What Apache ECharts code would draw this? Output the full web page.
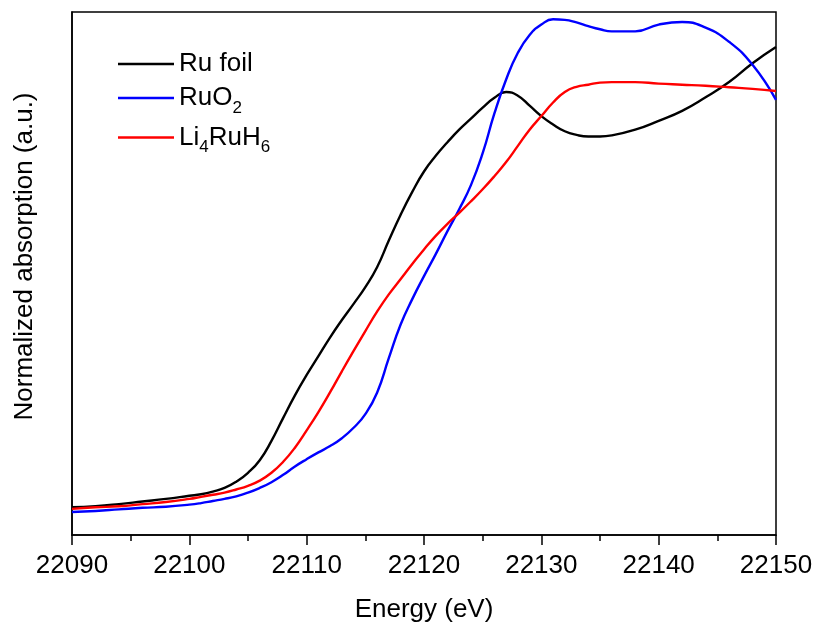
<!DOCTYPE html>
<html>
<head>
<meta charset="utf-8">
<script src="https://cdn.jsdelivr.net/npm/echarts@6/dist/echarts.min.js"></script>
<style>
  html, body { margin: 0; padding: 0; background: #fff; }
  #chart { width: 818px; height: 625px; }
</style>
</head>
<body>
<div id="chart"></div>
<script>
// Ru K-edge XANES, normalized absorption vs photon energy (eV)
const energy = [
  22090, 22092, 22094, 22096, 22098,
  22100, 22101, 22102, 22103, 22104, 22105, 22106, 22107, 22108, 22109,
  22110, 22111, 22112, 22113, 22114, 22115, 22116, 22117, 22118, 22119,
  22120, 22121, 22122, 22123, 22124, 22125, 22126, 22127, 22128, 22129,
  22130, 22131, 22132, 22133, 22134, 22135, 22136,
  22138, 22140, 22142, 22144, 22146, 22148, 22150
];

const ruFoil = [
  0.053, 0.055, 0.059, 0.064, 0.069,
  0.075, 0.078, 0.083, 0.090, 0.102, 0.119, 0.143, 0.180, 0.224, 0.267,
  0.306, 0.342, 0.378, 0.411, 0.442, 0.474, 0.512, 0.563, 0.612, 0.656,
  0.695, 0.725, 0.751, 0.775, 0.796, 0.817, 0.836, 0.847, 0.840, 0.821,
  0.801, 0.785, 0.772, 0.765, 0.762, 0.762, 0.764,
  0.775, 0.792, 0.811, 0.837, 0.866, 0.902, 0.933
];

const ruO2 = [
  0.044, 0.046, 0.049, 0.052, 0.054,
  0.058, 0.061, 0.065, 0.069, 0.074, 0.081, 0.090, 0.101, 0.115, 0.131,
  0.145, 0.158, 0.170, 0.185, 0.205, 0.231, 0.272, 0.338, 0.402, 0.451,
  0.495, 0.537, 0.581, 0.623, 0.669, 0.730, 0.806, 0.871, 0.922, 0.956,
  0.976, 0.986, 0.985, 0.980, 0.973, 0.967, 0.963,
  0.963, 0.976, 0.981, 0.970, 0.943, 0.899, 0.832
];

const li4RuH6 = [
  0.050, 0.053, 0.055, 0.059, 0.063,
  0.069, 0.073, 0.077, 0.081, 0.087, 0.094, 0.104, 0.119, 0.140, 0.167,
  0.200, 0.235, 0.273, 0.313, 0.352, 0.390, 0.427, 0.460, 0.489, 0.518,
  0.546, 0.572, 0.595, 0.616, 0.638, 0.661, 0.686, 0.713, 0.744, 0.775,
  0.801, 0.827, 0.847, 0.857, 0.861, 0.865, 0.866,
  0.866, 0.863, 0.861, 0.859, 0.856, 0.853, 0.849
];

const seriesNames = ['Ru foil', 'RuO2', 'Li4RuH6'];
const seriesColors = ['#000000', '#0000ff', '#ff0000'];
const seriesValues = [ruFoil, ruO2, li4RuH6];

// legend labels with chemical subscripts
const legendLabels = {
  'Ru foil': '{n|Ru foil}',
  'RuO2': '{n|RuO}{s|2}',
  'Li4RuH6': '{n|Li}{s|4}{n|RuH}{s|6}'
};

const FONT = '"Liberation Sans", Arial, sans-serif';

const chart = echarts.init(document.getElementById('chart'), null, { renderer: 'canvas' });

chart.setOption({
  animation: false,
  backgroundColor: '#ffffff',
  grid: {
    left: 72, right: 42, top: 12, bottom: 90,
    containLabel: false,
    outerBoundsMode: 'none',
    show: true,
    borderColor: '#000',
    borderWidth: 1.5,
    backgroundColor: 'transparent'
  },
  legend: {
    orient: 'vertical',
    left: 113,
    top: 46,
    icon: 'rect',
    itemWidth: 56,
    itemHeight: 2.4,
    itemGap: 8,
    textGap: 12,
    data: seriesNames,
    formatter: name => legendLabels[name],
    textStyle: {
      color: '#000',
      fontFamily: FONT,
      rich: {
        n: { fontSize: 26, fontFamily: FONT, color: '#000' },
        s: { fontSize: 17, fontFamily: FONT, color: '#000', padding: [20, 0, 0, 0] }
      }
    }
  },
  xAxis: {
    type: 'value',
    min: 22090,
    max: 22150,
    interval: 10,
    name: 'Energy (eV)',
    nameLocation: 'middle',
    nameGap: 62,
    nameTextStyle: { fontSize: 26, fontFamily: FONT, color: '#000' },
    axisLine: { show: true, onZero: false, lineStyle: { color: '#000', width: 1.5 } },
    axisTick: { show: true, inside: false, length: 10, lineStyle: { color: '#000', width: 1.5 } },
    minorTick: { show: true, splitNumber: 2, length: 6, lineStyle: { color: '#000', width: 1.5 } },
    axisLabel: {
      fontSize: 26, fontFamily: FONT, color: '#000', margin: 18,
      formatter: v => String(v)
    },
    splitLine: { show: false }
  },
  yAxis: {
    type: 'value',
    min: 0,
    max: 1,
    name: 'Normalized absorption (a.u.)',
    nameLocation: 'middle',
    nameGap: 34,
    nameTextStyle: { fontSize: 26, fontFamily: FONT, color: '#000', padding: [0, 0, 0, 34] },
    axisLine: { show: true, onZero: false, lineStyle: { color: '#000', width: 1.5 } },
    axisTick: { show: false },
    axisLabel: { show: false },
    splitLine: { show: false }
  },
  series: seriesNames.map((name, i) => ({
    name: name,
    type: 'line',
    data: energy.map((e, k) => [e, seriesValues[i][k]]),
    smooth: 0.5,
    symbol: 'none',
    clip: true,
    lineStyle: { color: seriesColors[i], width: 2.4 },
    itemStyle: { color: seriesColors[i] }
  }))
});
</script>
</body>
</html>
